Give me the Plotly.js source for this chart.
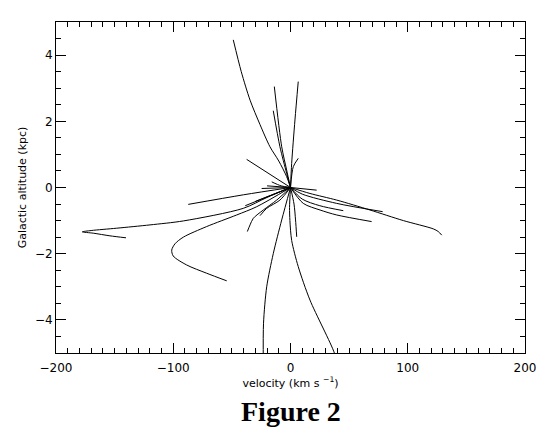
<!DOCTYPE html>
<html>
<head>
<meta charset="utf-8">
<script src="https://cdn.plot.ly/plotly-3.0.1.min.js"></script>
<style>html,body{margin:0;padding:0;background:#fff;}#plot{width:548px;height:439px;}</style>
</head>
<body>
<div id="plot"></div>
<script>
// Trajectories: velocity (km/s) vs Galactic altitude (kpc)
const trajAx = [0, -3.3, -10, -17.5, -26, -34.5, -42, -48.8];
const trajAy = [0, 0.33, 0.8, 1.23, 1.9, 2.64, 3.5, 4.46];
const trajBx = [0, -3.3, -7.5, -13.8];
const trajBy = [0, 0.53, 1.23, 3.05];
const trajCx = [0, -3.3, -9, -14.7];
const trajCy = [0, 0.43, 1.23, 2.32];
const trajDx = [0, 1.0, 3.8, 6.6];
const trajDy = [0, 0.73, 2.04, 3.2];
const trajEx = [0, -37.4];
const trajEy = [0, 0.85];
const trajFx = [0, 2.4, 6.6];
const trajFy = [0, 0.63, 0.88];
const trajGx = [0, -40, -87.2];
const trajGy = [0, -0.22, -0.51];
const trajHx = [0, -20, -40.3, -91.4, -119.8, -148.3, -170, -177.6, -168.2, -154, -140.3];
const trajHy = [0, -0.3, -0.63, -1.01, -1.13, -1.23, -1.3, -1.34, -1.38, -1.46, -1.52];
const trajIx = [0, -28.8, -45.9, -71.5, -91.4, -98.5, -101.3, -100, -88.6, -71.5, -54.4];
const trajIy = [0, -0.58, -0.83, -1.18, -1.5, -1.7, -1.89, -2.07, -2.34, -2.59, -2.82];
const trajJx = [0, -11.8, -23.2, -31.7, -34.5, -36.8];
const trajJy = [0, -0.38, -0.68, -0.93, -1.13, -1.33];
const trajKx = [0, -9, -20.3, -26];
const trajKy = [0, -0.38, -0.63, -0.85];
const trajL1x = [0, -7.5, -14.7, -20.3, -23, -23.2];
const trajL1y = [0, -0.98, -2.0, -3.0, -4.1, -5.3];
const trajL2x = [0, -0.8, -0.5, 1.0, 6.6, 16.6, 37.4, 39];
const trajL2y = [0, -0.6, -1.0, -1.6, -2.39, -3.4, -5.0, -5.3];
const trajL3x = [0, 3, 4.3, 5.3];
const trajL3y = [0, -0.5, -0.98, -1.49];
const trajR1x = [0, 16.6, 39.4, 67.8, 96.3, 121.8, 126, 129];
const trajR1y = [0, -0.18, -0.38, -0.68, -1.0, -1.25, -1.33, -1.44];
const trajR2x = [0, 10, 39.4, 78.6];
const trajR2y = [0, -0.2, -0.48, -0.73];
const trajR3x = [0, 10.9, 25.2, 39.4, 69.2];
const trajR3y = [0, -0.48, -0.68, -0.83, -1.03];
const trajR4x = [0, 10, 25, 45];
const trajR4y = [0, -0.35, -0.55, -0.7];
const trajR5x = [0, 22.3];
const trajR5y = [0, -0.08];
const trajS1x = [0, -24.6];
const trajS1y = [0, -0.03];
const trajS2x = [0, -8, -16];
const trajS2y = [0, 0.05, 0.17];
const trajS3x = [0, -38.6];
const trajS3y = [0, -0.55];
const trajS4x = [0, -20];
const trajS4y = [0, 0.05];
const trajS5x = [0, -30];
const trajS5y = [0, -0.42];

const tracks = [
  [trajAx, trajAy], [trajBx, trajBy], [trajCx, trajCy], [trajDx, trajDy],
  [trajEx, trajEy], [trajFx, trajFy], [trajGx, trajGy], [trajHx, trajHy],
  [trajIx, trajIy], [trajJx, trajJy], [trajKx, trajKy], [trajL1x, trajL1y],
  [trajL2x, trajL2y], [trajL3x, trajL3y], [trajR1x, trajR1y], [trajR2x, trajR2y],
  [trajR3x, trajR3y], [trajR4x, trajR4y], [trajR5x, trajR5y], [trajS1x, trajS1y],
  [trajS2x, trajS2y], [trajS3x, trajS3y], [trajS4x, trajS4y], [trajS5x, trajS5y]
];

const data = tracks.map(t => ({
  x: t[0], y: t[1], type: 'scatter', mode: 'lines',
  line: {color: '#000', width: 1, shape: 'spline', smoothing: 0.8},
  hoverinfo: 'skip', showlegend: false
}));

const tickFont = {family: 'DejaVu Sans', size: 12, color: '#000'};
const layout = {
  width: 548, height: 439,
  margin: {l: 56, r: 23, t: 22, b: 86},
  paper_bgcolor: '#fff', plot_bgcolor: '#fff',
  showlegend: false,
  xaxis: {
    range: [-200, 200], tickvals: [-200, -100, 0, 100, 200],
    ticktext: ['\u2212200', '\u2212100', '0', '100', '200'],
    ticks: 'inside', ticklen: 10, tickwidth: 1, tickcolor: '#000',
    ticklabelstandoff: 4,
    minor: {dtick: 10, tick0: 0, ticks: 'inside', ticklen: 5, tickwidth: 1, tickcolor: '#000'},
    showline: true, linecolor: '#000', linewidth: 1, mirror: 'ticks',
    showgrid: false, zeroline: false, tickfont: tickFont,
    title: {text: 'velocity (km s <sup>\u22121</sup>)', font: {family: 'DejaVu Sans', size: 11, color: '#000'}, standoff: 3}
  },
  yaxis: {
    range: [-5, 5], tickvals: [-4, -2, 0, 2, 4],
    ticktext: ['\u22124', '\u22122', '0', '2', '4'],
    ticks: 'inside', ticklen: 10, tickwidth: 1, tickcolor: '#000',
    minor: {dtick: 0.5, tick0: 0, ticks: 'inside', ticklen: 5, tickwidth: 1, tickcolor: '#000'},
    showline: true, linecolor: '#000', linewidth: 1, mirror: 'ticks',
    showgrid: false, zeroline: false, tickfont: tickFont,
    title: {text: 'Galactic altitude (kpc)', font: {family: 'DejaVu Sans', size: 11, color: '#000'}, standoff: 6}
  },
  annotations: [{
    text: '<b>Figure 2</b>', xref: 'paper', yref: 'paper', x: 0.5, y: -0.178,
    xanchor: 'center', yanchor: 'middle', showarrow: false,
    font: {family: 'Liberation Serif', size: 28, color: '#000'}
  }]
};

Plotly.newPlot('plot', data, layout, {staticPlot: true, displayModeBar: false});
</script>
</body>
</html>
